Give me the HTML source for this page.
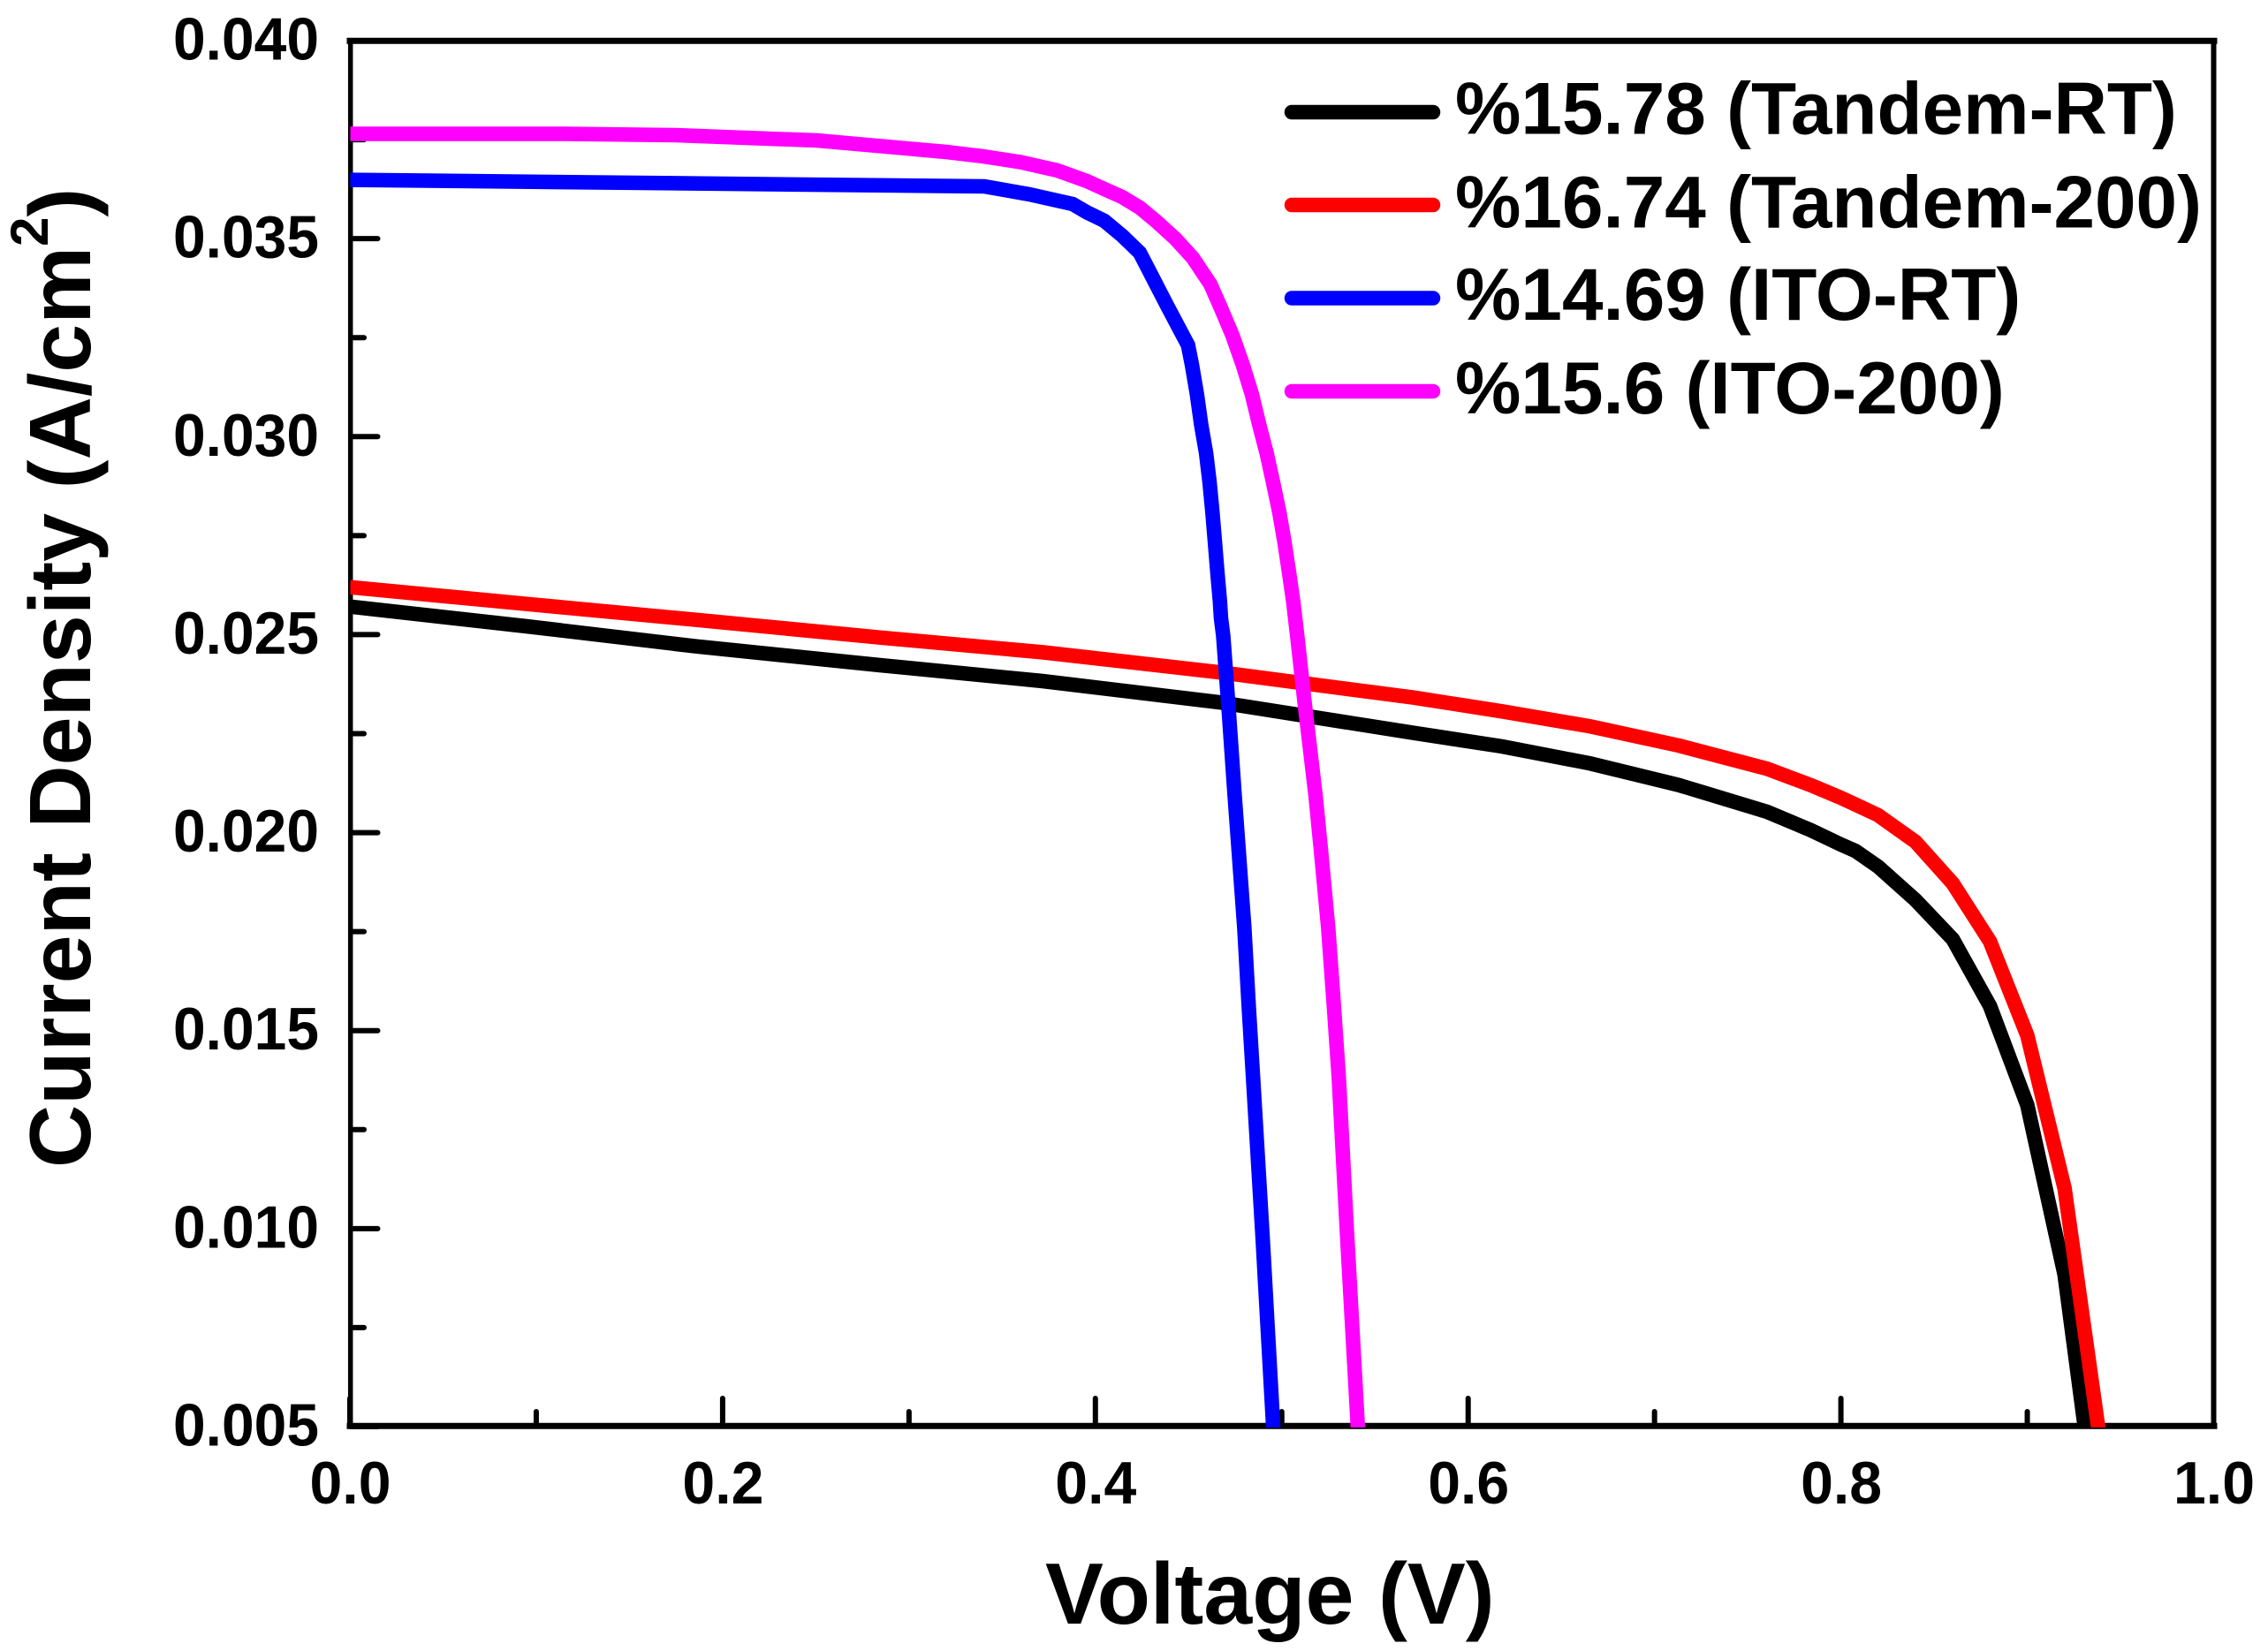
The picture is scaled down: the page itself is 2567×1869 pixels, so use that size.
<!DOCTYPE html>
<html lang="en">
<head>
<meta charset="utf-8">
<title>Current Density vs Voltage</title>
<style>
  html, body { margin: 0; padding: 0; background: #fff; }
  svg { display: block; }
  text { font-family: "Liberation Sans", Arial, sans-serif; font-weight: bold; fill: #000; }
  .tick-label { font-size: 68px; }
  .axis-title { font-size: 98.8px; }
  .legend-label { font-size: 83.7px; }
  .axis-line { stroke: #000; stroke-linecap: square; }
  .tick { stroke: #000; stroke-width: 6; stroke-linecap: round; }
  .curve { fill: none; stroke-width: 16.5; stroke-linejoin: miter; clip-path: url(#plot-clip); }
  .legend-line { stroke-width: 16.5; stroke-linecap: round; }
  .c-black { stroke: #000; }
  .c-red { stroke: #f00; }
  .c-blue { stroke: #00f; }
  .c-magenta { stroke: #f0f; }
</style>
</head>
<body>
<svg id="chart" width="2567" height="1869" viewBox="0 0 2567 1869" xmlns="http://www.w3.org/2000/svg">
  <defs>
    <clipPath id="plot-clip"><rect x="396.5" y="46" width="2109" height="1570"></rect></clipPath>
  </defs>
  <rect x="0" y="0" width="2567" height="1869" fill="#fff"></rect>
  <g id="ticks"></g>
  <g id="tick-labels"></g>
  <line class="axis-line" x1="396.7" y1="46" x2="396.7" y2="1614" stroke-width="5.5"></line>
  <line class="axis-line" x1="2505.5" y1="46" x2="2505.5" y2="1614" stroke-width="6"></line>
  <line class="axis-line" x1="396" y1="46.3" x2="2506" y2="46.3" stroke-width="7"></line>
  <line class="axis-line" x1="396" y1="1614.3" x2="2506" y2="1614.3" stroke-width="7"></line>

  <path id="curve-tandem-rt" class="curve c-black"></path>
  <path id="curve-tandem-200" class="curve c-red"></path>
  <path id="curve-ito-rt" class="curve c-blue"></path>
  <path id="curve-ito-200" class="curve c-magenta"></path>

  <text class="axis-title" transform="translate(102 1322) rotate(-90)">Current Density (A/cm<tspan dy="-48" font-size="60">2</tspan><tspan dy="48">)</tspan></text>
  <text class="axis-title" x="1183" y="1838">Voltage (V)</text>

  <g>
    <line class="legend-line c-black" x1="1462" y1="127" x2="1622" y2="127"></line>
    <text class="legend-label" x="1647" y="151.5">%15.78 (Tandem-RT)</text>
    <line class="legend-line c-red" x1="1462" y1="232" x2="1622" y2="232"></line>
    <text class="legend-label" x="1647" y="257.5">%16.74 (Tandem-200)</text>
    <line class="legend-line c-blue" x1="1462" y1="337.5" x2="1622" y2="337.5"></line>
    <text class="legend-label" x="1647" y="362">%14.69 (ITO-RT)</text>
    <line class="legend-line c-magenta" x1="1462" y1="443" x2="1622" y2="443"></line>
    <text class="legend-label" x="1647" y="468">%15.6 (ITO-200)</text>
  </g>
</svg>

<script>
// Axis tick values and labels
const xMajorTicks = [0.0, 0.2, 0.4, 0.6, 0.8, 1.0];
const xMajorLabels = ["0.0", "0.2", "0.4", "0.6", "0.8", "1.0"];
const xMinorTicks = [0.1, 0.3, 0.5, 0.7, 0.9];
const yMajorTicks = [0.005, 0.010, 0.015, 0.020, 0.025, 0.030, 0.035, 0.040];
const yMajorLabels = ["0.005", "0.010", "0.015", "0.020", "0.025", "0.030", "0.035", "0.040"];
const yMinorTicks = [0.0075, 0.0125, 0.0175, 0.0225, 0.0275, 0.0325, 0.0375];

// Series values: voltage (V) and current density (A/cm2)
const tandemRtVoltage = [0, 0.0948, 0.1858, 0.2844, 0.3716, 0.4665, 0.5708, 0.6182, 0.6656, 0.7130, 0.7604, 0.7841, 0.80, 0.8078, 0.82, 0.84, 0.86, 0.88, 0.90, 0.92, 0.9308, 0.9385];
const tandemRtCurrent = [0.025708, 0.02521, 0.024704, 0.024229, 0.023827, 0.023292, 0.022518, 0.022177, 0.021746, 0.021202, 0.020526, 0.020057, 0.0197, 0.019538, 0.01914, 0.0183, 0.01731, 0.01562, 0.01312, 0.00884, 0.005, 0.00226];

const tandem200Voltage = [0, 0.0948, 0.1858, 0.2844, 0.3716, 0.4665, 0.5708, 0.6182, 0.6656, 0.7130, 0.7604, 0.7841, 0.80, 0.8078, 0.82, 0.84, 0.86, 0.88, 0.90, 0.92, 0.938, 0.945];
const tandem200Current = [0.026199, 0.025775, 0.025373, 0.024927, 0.024555, 0.02405, 0.02341, 0.023062, 0.022683, 0.022199, 0.021612, 0.021195, 0.02088, 0.020711, 0.02044, 0.01977, 0.01872, 0.01725, 0.01488, 0.01102, 0.005, 0.00266];

const itoRtVoltage = [0, 0.3404, 0.3645, 0.3878, 0.3954, 0.4048, 0.4143, 0.4238, 0.4309, 0.4380, 0.4497, 0.4518, 0.4545, 0.4567, 0.4594, 0.4613, 0.4628, 0.4641, 0.4654, 0.4668, 0.4674, 0.4686, 0.4714, 0.4747, 0.4799, 0.4823, 0.4846, 0.4897, 0.4954, 0.4968];
const itoRtCurrent = [0.036484, 0.036319, 0.036119, 0.035873, 0.035666, 0.035449, 0.035077, 0.034646, 0.034, 0.033352, 0.032311, 0.031813, 0.031062, 0.030319, 0.029582, 0.028831, 0.028088, 0.027352, 0.0266, 0.025857, 0.025411, 0.024965, 0.02318, 0.02095, 0.017604, 0.015596, 0.013812, 0.009796, 0.005, 0.00355];

const ito200Voltage = [0, 0.1147, 0.1749, 0.2507, 0.2863, 0.3199, 0.3398, 0.3597, 0.3796, 0.3954, 0.4048, 0.4143, 0.4238, 0.4333, 0.4428, 0.4522, 0.4617, 0.4676, 0.4736, 0.4791, 0.4840, 0.4878, 0.4919, 0.4954, 0.4987, 0.5014, 0.5038, 0.5061, 0.5072, 0.5083, 0.5125, 0.5181, 0.5209, 0.5249, 0.5280, 0.5306, 0.5351, 0.5408, 0.5422];
const ito200Current = [0.037647, 0.037647, 0.037613, 0.037479, 0.03733, 0.037189, 0.037078, 0.036933, 0.036721, 0.036453, 0.036252, 0.036052, 0.035784, 0.035411, 0.035003, 0.034519, 0.03385, 0.033219, 0.032549, 0.031813, 0.031062, 0.030319, 0.029582, 0.028831, 0.028088, 0.027352, 0.0266, 0.025857, 0.025411, 0.024965, 0.02318, 0.02095, 0.019611, 0.017604, 0.015596, 0.013812, 0.009796, 0.005, 0.00355];

// Axis functions
function xScale(v) { return 396 + (v - 0) / (1 - 0) * (2505.5 - 396); }
function yScale(v) { return 46 + (0.04 - v) / (0.04 - 0.005) * (1615 - 46); }

const SVG_NS = "http://www.w3.org/2000/svg";
const tickGroup = document.getElementById("ticks");
const labelGroup = document.getElementById("tick-labels");

function makeLine(x1, y1, x2, y2) {
  const el = document.createElementNS(SVG_NS, "line");
  el.setAttribute("class", "tick");
  el.setAttribute("x1", x1);
  el.setAttribute("y1", y1);
  el.setAttribute("x2", x2);
  el.setAttribute("y2", y2);
  tickGroup.appendChild(el);
  return el;
}

function makeLabel(x, y, anchor, str, len) {
  const el = document.createElementNS(SVG_NS, "text");
  el.setAttribute("class", "tick-label");
  el.setAttribute("x", x);
  el.setAttribute("y", y);
  el.setAttribute("text-anchor", anchor);
  el.setAttribute("textLength", len);
  el.setAttribute("lengthAdjust", "spacingAndGlyphs");
  el.textContent = str;
  labelGroup.appendChild(el);
  return el;
}

xMajorTicks.forEach(function (v, i) {
  const t = makeLine(xScale(v), 1614, xScale(v), 1583);
  
  
  const l = makeLabel(xScale(v) + 0.5, 1702, "middle", xMajorLabels[i], 92);
  
  
});

xMinorTicks.forEach(function (v) {
  const t = makeLine(xScale(v), 1614, xScale(v), 1598);
  
  
});

yMajorTicks.forEach(function (v, i) {
  const t = makeLine(397, yScale(v), 427.5, yScale(v));
  
  
  const l = makeLabel(361, yScale(v) + 21.5, "end", yMajorLabels[i], 165);
  
  
});

yMinorTicks.forEach(function (v) {
  const t = makeLine(397, yScale(v), 412, yScale(v));
  
  
});

function buildPath(xs, ys) {
  return xs.map(function (x, i) {
    return (i === 0 ? "M" : "L") + xScale(x).toFixed(2) + " " + yScale(ys[i]).toFixed(2);
  }).join(" ");
}

document.getElementById("curve-tandem-rt").setAttribute("d", buildPath(tandemRtVoltage, tandemRtCurrent));
document.getElementById("curve-tandem-200").setAttribute("d", buildPath(tandem200Voltage, tandem200Current));
document.getElementById("curve-ito-rt").setAttribute("d", buildPath(itoRtVoltage, itoRtCurrent));
document.getElementById("curve-ito-200").setAttribute("d", buildPath(ito200Voltage, ito200Current));
</script>
</body>
</html>
